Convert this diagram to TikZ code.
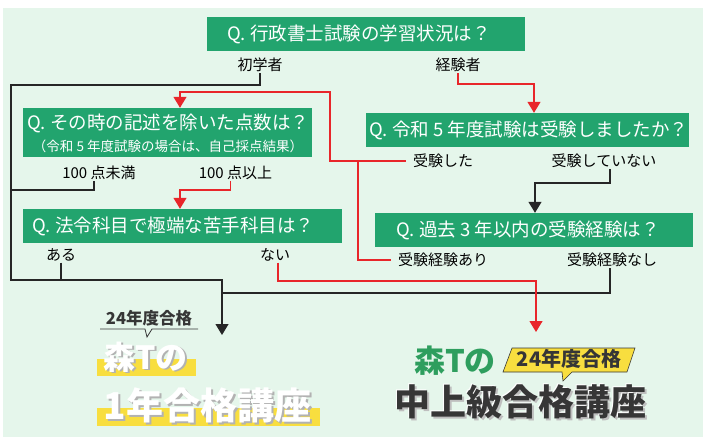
\documentclass[tikz,border=0pt]{standalone}
\usepackage{fontspec}
\setmainfont{Noto Sans CJK JP}
\usetikzlibrary{positioning}
\usetikzlibrary{arrows.meta}
\definecolor{verdeQ}{HTML}{22A46E}
\definecolor{sfondo}{HTML}{E5F6EB}
\definecolor{rossoL}{HTML}{E8262A}
\definecolor{giallo}{HTML}{F8DE3F}
\definecolor{grigio}{HTML}{363636}
\definecolor{verdeL}{HTML}{2E9E5E}

\begin{document}
\begin{tikzpicture}[x=1pt,y=-1pt,
domanda/.style={fill=verdeQ,minimum width=318pt,minimum height=34pt,inner sep=0pt},
testoQ/.style={text=white,font=\fontsize{18.5}{20}\selectfont,inner sep=0pt,anchor=west},
risposta/.style={font=\fontsize{15}{17}\selectfont,inner xsep=7pt,inner ysep=1pt},
nero/.style={line width=1.2pt,black!85},
rosso/.style={line width=1.2pt,rossoL},
freccia/.style={-{Triangle[width=13pt,length=11pt]}},
logo/.style={font=\bfseries\fontsize{#1}{#1}\selectfont,inner sep=0pt}
]
\useasboundingbox (0,0) rectangle (709,444);
\fill[white] (0,0) rectangle (709,444);
\fill[sfondo] (3,8) rectangle (703,437);
%----
\node[domanda](q1) at (366,34.5){}; \node[testoQ](q1t) at (227,34.5){Q. 行政書士試験の学習状況は？};
\node[risposta](ia) at (260,65){初学者};
\node[risposta](ib) at (458,65){経験者};
%--
\node[domanda,minimum width=323pt](q2) at (527.5,130){}; \node[testoQ](q2t) at (369,130){Q. 令和 5 年度試験は受験しましたか？};
\node[risposta](sa) at (443,161){受験した};
\node[risposta](sb) at (604,161){受験していない};
%--
\node[domanda,minimum width=289pt,minimum height=49pt](q3) at (167.5,132.5){};
\node[testoQ](q3t) at (27,123){Q. その時の記述を除いた点数は？};
\node[text=white,font=\fontsize{13.5}{15}\selectfont,inner sep=0pt](q3s) at (168,146){（令和 5 年度試験の場合は、自己採点結果）};
\node[risposta](ta) at (99,173){100 点未満};
\node[risposta](tb) at (235.5,173){100 点以上};
%--
\node[domanda,minimum width=319pt](q4) at (182.5,226){}; \node[testoQ](q4t) at (32,226){Q. 法令科目で極端な苦手科目は？};
\node[risposta](ua) at (61,255){ある};
\node[risposta](ub) at (275,255){ない};
%--
\node[domanda](q5) at (534,230){}; \node[testoQ](q5t) at (396,230){Q. 過去 3 年以内の受験経験は？};
\node[risposta](va) at (443,260){受験経験あり};
\node[risposta](vb) at (612,260){受験経験なし};
%----
\coordinate (lx) at (11,85);
\coordinate (ly) at (222,280);
\coordinate (lz) at (11,190);
\coordinate (lw) at (222,293);
\coordinate (lv) at (535,183);
\coordinate (fineA) at (222,335);
\draw[nero,freccia] (ia.south) |- (lx) |- (ly) -- (fineA);
\draw[nero] ([xshift=-5pt]ta.south) |- (lz);
\draw[nero] (ua.south) -- (ua.south |- ly);
\draw[nero] ([xshift=-2pt]vb.south) |- (lw);
\draw[nero,freccia] ([xshift=6pt]sb.south) |- (lv) -- (lv |- q5.north);
%--
\coordinate (rx) at (534,84);
\coordinate (ry) at (330,92);
\coordinate (rz) at (180,92);
\coordinate (rw) at (358,161);
\coordinate (rv) at (180,190);
\coordinate (ru) at (536,281);
\coordinate (fineB) at (536,332);
\draw[rosso,freccia] (ib.south) |- (rx) -- (rx |- q2.north);
\draw[rosso,freccia] (sa.west) -| (ry) -- (rz) -- (rz |- q3.north);
\draw[rosso] (va.west) -| (rw);
\draw[rosso,freccia] ([xshift=-5pt]tb.south) |- (rv) -- (rv |- q4.north);
\draw[rosso,freccia] ([xshift=3pt]ub.south) |- (ru) -- (fineB);
%---- 1年合格講座
\node[logo=16.5,text=grigio](la) at (149,318){24年度合格};
\draw[grigio,line width=0.8pt] (100,329) -- (145,329) -- (147,337) -- (152,329) -- (198,329);
\fill[giallo] (97,359) rectangle (196,376);
\node[logo=32,text=black!30](lbs) at (147.5,358.5){森Tの};
\node[logo=32,text=white](lb) at (145.5,357){森Tの};
\fill[giallo] (97,408) rectangle (320,426);
\node[logo=37,text=black!30](lcs) at (209.5,407){1年合格講座};
\node[logo=37,text=white](lc) at (207.5,405.5){1年合格講座};
%---- 中上級合格講座
\node[logo=31,text=verdeL](ra) at (455,361){森Tの};
\filldraw[fill=giallo,draw=grigio,line width=0.6pt] (512,348) -- (635,348) -- (627,372) -- (572,372) -- (563,381) -- (562,372) -- (503,372) -- cycle;
\node[logo=20,text=grigio](rb) at (569,359){24年度合格};
\node[logo=36,text=black!25](rcs) at (522,404){中上級合格講座};
\node[logo=36,text=white](rcw) at (519,401){中上級合格講座};
\node[logo=36,text=grigio](rc) at (520,402){中上級合格講座};
\end{tikzpicture}
\end{document}
